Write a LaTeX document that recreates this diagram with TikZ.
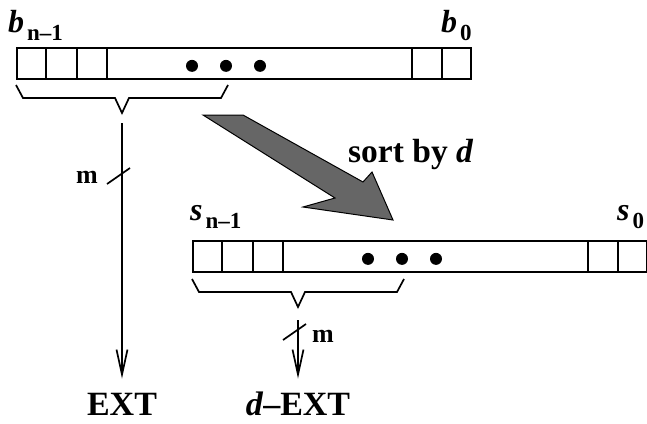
\documentclass[tikz,border=0pt]{standalone}
\usepackage{fontspec}
\setmainfont{Liberation Serif}
\usetikzlibrary{arrows.meta, positioning}
\definecolor{fatgray}{HTML}{666666}
\newcommand{\bitname}[2]{{\fontsize{32}{32}\selectfont\bfseries\itshape #1}\hspace{3pt}\raisebox{-8pt}{\fontsize{23}{23}\selectfont\bfseries #2}}
\tikzset{
  x=1pt, y=-1pt,
  reg/.style={draw, line width=1.7pt, minimum height=31pt, inner sep=0pt, anchor=north west},
  cellline/.style={line width=1.7pt},
  brace/.style={line width=1.7pt, line join=miter},
  bus/.style={line width=1.7pt, -{Straight Barb[length=25pt,width=11pt]}},
  tick/.style={line width=1.7pt},
  lbl/.style={inner sep=0pt, anchor=base west},
  big/.style={inner sep=0pt, anchor=base, font=\fontsize{34}{34}\selectfont\bfseries},
  small/.style={inner sep=0pt, font=\fontsize{26}{26}\selectfont\bfseries},
  fat/.style={fill=fatgray, draw=black, line width=1pt, line join=miter}
}

\begin{document}
\begin{tikzpicture}
  \useasboundingbox (0,0) rectangle (647,423);

  % registers
  \node[reg, minimum width=454pt] (breg) at (16,47) {};
  \node[reg, minimum width=454pt] (sreg) at (192,240) {};
  \foreach \r in {breg,sreg} {
    \foreach \x in {30,61,91}
      \draw[cellline] ([xshift=\x pt]\r.north west) -- ([xshift=\x pt]\r.south west);
    \foreach \x in {30,60}
      \draw[cellline] ([xshift=-\x pt]\r.north east) -- ([xshift=-\x pt]\r.south east);
    \foreach \x in {176,210,244}
      \fill ([xshift=\x pt,yshift=-2.5pt]\r.west) circle (6pt);
  }

  % bit names
  \node[lbl] (bhi) at (8,32) {\bitname{b}{n--1}};
  \node[lbl] (blo) at (441,32) {\bitname{b}{0}};
  \node[lbl] (shi) at (190,220) {\bitname{s}{n--1}};
  \node[lbl] (slo) at (617,220) {\bitname{s}{0}};

  % braces
  \draw[brace] (16,85) -- (23,98) -- (115,98) -- (122,113) coordinate (btip)
    -- (129,98) -- (221,98) -- (228,85);
  \draw[brace] (192,279) -- (199,292) -- (291,292) -- (298,307) coordinate (stip)
    -- (305,292) -- (397,292) -- (404,279);

  % outputs
  \node[big] (ext) at (122,415) {EXT};
  \node[big] (dext) at (298,415) {\textit{d}--EXT};
  \draw[bus, shorten <=10pt, shorten >=14pt] (btip) -- (ext.north);
  \draw[bus, shorten <=13pt, shorten >=14pt] (stip) -- (ext.north -| stip);

  % width marks
  \coordinate (bmark) at (122,174);
  \coordinate (smark) at (298,330);
  \draw[tick] ([shift={(-15,10)}]bmark) -- ([shift={(8,-6)}]bmark);
  \draw[tick] ([shift={(-15,10)}]smark) -- ([shift={(8,-6)}]smark);
  \node[small, anchor=base east] (bm) at (98,183) {m};
  \node[small, anchor=base west] (sm) at (312,342) {m};

  % sort arrow
  \draw[fat] (203,115) -- (243,115) -- (363,182) -- (372,172) -- (393,220)
    -- (303,207) -- (335,198) -- cycle;
  \node[lbl] (sortlbl) at (348,162) {\fontsize{33.5}{33.5}\selectfont\bfseries sort by \textit{d}};
\end{tikzpicture}
\end{document}
